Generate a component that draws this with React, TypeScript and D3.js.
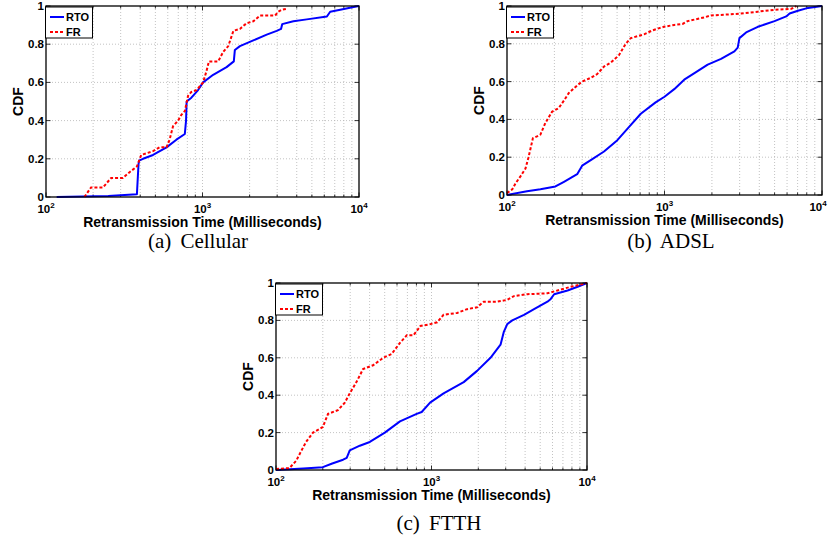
import React from 'react'
import * as d3 from 'd3'

// [milliseconds, cdf] points
const cellularRTO: [number, number][] = [
  [117, 0], [250, 0.005], [381, 0.015], [390, 0.17], [393, 0.19], [417, 0.2], [483, 0.22],
  [589, 0.26], [681, 0.3], [771, 0.33], [785, 0.4], [792, 0.5], [849, 0.52], [937, 0.56],
  [1009, 0.6], [1170, 0.64], [1425, 0.68], [1585, 0.71], [1610, 0.77], [1734, 0.79],
  [2112, 0.82], [2573, 0.85], [2980, 0.87], [3176, 0.88], [3230, 0.905], [3808, 0.92],
  [4641, 0.93], [6235, 0.945], [6546, 0.97], [7586, 0.98], [9244, 0.995], [10000, 1],
]
const cellularFR: [number, number][] = [
  [176, 0], [194, 0.05], [231, 0.05], [261, 0.1], [310, 0.1], [342, 0.13], [381, 0.16],
  [406, 0.22], [483, 0.24], [532, 0.26], [589, 0.26], [616, 0.3], [648, 0.37], [698, 0.4],
  [733, 0.43], [771, 0.45], [809, 0.53], [849, 0.55], [916, 0.56], [1009, 0.6], [1061, 0.66],
  [1099, 0.71], [1260, 0.71], [1356, 0.76], [1461, 0.79], [1575, 0.87], [1734, 0.88],
  [1914, 0.91], [2112, 0.92], [2333, 0.95], [2911, 0.95], [3055, 0.97], [3208, 0.98], [3451, 0.985],
]
const adslRTO: [number, number][] = [
  [100, 0], [134, 0.02], [163, 0.03], [203, 0.045], [230, 0.07], [279, 0.11], [293, 0.14],
  [300, 0.155], [348, 0.19], [413, 0.23], [502, 0.29], [596, 0.36], [707, 0.43], [878, 0.49],
  [1000, 0.52], [1153, 0.56], [1334, 0.61], [1585, 0.65], [1880, 0.69], [2286, 0.72],
  [2778, 0.76], [2917, 0.78], [2990, 0.83], [3297, 0.86], [3913, 0.89], [4996, 0.92],
  [5929, 0.945], [6226, 0.96], [7033, 0.975], [8147, 0.99], [10000, 1],
]
const adslFR: [number, number][] = [
  [100, 0.01], [108, 0.03], [113, 0.06], [122, 0.1], [131, 0.14], [137, 0.2], [146, 0.3],
  [155, 0.31], [163, 0.32], [175, 0.38], [193, 0.44], [213, 0.46], [230, 0.5], [247, 0.54],
  [279, 0.58], [300, 0.6], [340, 0.62], [374, 0.64], [413, 0.68], [455, 0.7], [514, 0.74],
  [567, 0.8], [611, 0.83], [741, 0.85], [834, 0.87], [902, 0.88], [991, 0.89], [1153, 0.9],
  [1303, 0.905], [1400, 0.92], [1585, 0.93], [1790, 0.94], [1973, 0.95], [2518, 0.955],
  [3062, 0.96], [3913, 0.97], [4996, 0.98], [6383, 0.985], [6874, 1],
]
const ftthRTO: [number, number][] = [
  [100, 0], [150, 0.008], [200, 0.015], [230, 0.035], [270, 0.055], [285, 0.065], [298, 0.105],
  [346, 0.13], [401, 0.15], [501, 0.2], [627, 0.26], [803, 0.3], [865, 0.31], [979, 0.36],
  [1196, 0.41], [1611, 0.47], [1964, 0.53], [2395, 0.6], [2779, 0.67], [2922, 0.74],
  [3071, 0.78], [3307, 0.8], [3935, 0.83], [4565, 0.86], [5567, 0.9], [5849, 0.915],
  [6146, 0.94], [7499, 0.96], [8704, 0.98], [10000, 1],
]
const ftthFR: [number, number][] = [
  [100, 0.005], [122, 0.01], [135, 0.05], [145, 0.1], [156, 0.15], [173, 0.2], [200, 0.23],
  [216, 0.3], [250, 0.32], [277, 0.36], [298, 0.41], [329, 0.47], [363, 0.54], [421, 0.56],
  [489, 0.6], [554, 0.62], [627, 0.68], [693, 0.72], [765, 0.72], [849, 0.77], [985, 0.78],
  [1088, 0.79], [1196, 0.83], [1462, 0.84], [1691, 0.86], [1964, 0.87], [2168, 0.9],
  [2644, 0.9], [3069, 0.91], [3390, 0.93], [4130, 0.94], [5567, 0.945], [6460, 0.96],
  [7879, 0.98], [10000, 1],
]

const yTicks = [0, 0.2, 0.4, 0.6, 0.8, 1]
const yTickLabels = ['0', '0.2', '0.4', '0.6', '0.8', '1']
const xMajor = [100, 1000, 10000]
const xExponents = ['2', '3', '4']
const xMinor = [200, 300, 400, 500, 600, 700, 800, 900, 2000, 3000, 4000, 5000, 6000, 7000, 8000, 9000]
const legendNames = ['RTO', 'FR']

const W = 829
const H = 545
const SANS = '"Liberation Sans", Arial, Helvetica, sans-serif'
const SERIF = '"Liberation Serif", "Times New Roman", serif'
const BLUE = '#0000ff'
const RED = '#ff0000'

type PanelProps = {
  x0: number; x1: number; y0: number; y1: number
  rto: [number, number][]; fr: [number, number][]
  caption: string; capX: number; capY: number
}

function Panel({ x0, x1, y0, y1, rto, fr, caption, capX, capY }: PanelProps) {
  const x = d3.scaleLog().domain([100, 10000]).range([x0, x1])
  const y = d3.scaleLinear().domain([0, 1]).range([y1, y0])
  const line = d3.line<[number, number]>().x(d => x(d[0])).y(d => y(d[1]))
  const grid = '#b4b4b4'

  return (
    <g>
      <rect x={x0} y={y0} width={x1 - x0} height={y1 - y0} fill="white" />
      {/* grid */}
      {[...xMinor, 1000].map(v => (
        <line key={'gx' + v} x1={x(v)} x2={x(v)} y1={y0} y2={y1}
          stroke={grid} strokeWidth={0.8} strokeDasharray="1,2" />
      ))}
      {yTicks.slice(1, -1).map(v => (
        <line key={'gy' + v} x1={x0} x2={x1} y1={y(v)} y2={y(v)}
          stroke={grid} strokeWidth={0.8} strokeDasharray="1,2" />
      ))}
      {/* ticks, inside on all four sides */}
      {xMinor.map(v => (
        <g key={'mt' + v} stroke="black" strokeWidth={0.8}>
          <line x1={x(v)} x2={x(v)} y1={y1} y2={y1 - 2.5} />
          <line x1={x(v)} x2={x(v)} y1={y0} y2={y0 + 2.5} />
        </g>
      ))}
      {xMajor.map(v => (
        <g key={'Mt' + v} stroke="black" strokeWidth={0.8}>
          <line x1={x(v)} x2={x(v)} y1={y1} y2={y1 - 4.5} />
          <line x1={x(v)} x2={x(v)} y1={y0} y2={y0 + 4.5} />
        </g>
      ))}
      {yTicks.map(v => (
        <g key={'yt' + v} stroke="black" strokeWidth={0.8}>
          <line x1={x0} x2={x0 + 4.5} y1={y(v)} y2={y(v)} />
          <line x1={x1} x2={x1 - 4.5} y1={y(v)} y2={y(v)} />
        </g>
      ))}
      {/* curves */}
      <path d={line(rto) ?? ''} fill="none" stroke={BLUE} strokeWidth={2} strokeLinejoin="round" />
      <path d={line(fr) ?? ''} fill="none" stroke={RED} strokeWidth={2} strokeDasharray="3,2" />
      {/* frame */}
      <rect x={x0} y={y0} width={x1 - x0} height={y1 - y0} fill="none" stroke="black" strokeWidth={1.3} />
      {/* tick labels */}
      {yTicks.map((v, i) => (
        <text key={'yl' + v} x={x0 - 2} y={y(v) + 4} textAnchor="end"
          fontFamily={SANS} fontWeight="bold" fontSize={11.5}>{yTickLabels[i]}</text>
      ))}
      {xMajor.map((v, i) => (
        <text key={'xl' + v} x={Math.min(x(v), W - 11)} y={y1 + 16} textAnchor="middle"
          fontFamily={SANS} fontWeight="bold" fontSize={11.5}>
          10<tspan dy={-5} fontSize={8}>{xExponents[i]}</tspan>
        </text>
      ))}
      <text x={(x0 + x1) / 2} y={y1 + 30} textAnchor="middle" fontFamily={SANS}
        fontWeight="bold" fontSize={14}>Retransmission Time (Milliseconds)</text>
      <text transform={`translate(${x0 - 23},${(y0 + y1) / 2}) rotate(-90)`} textAnchor="middle"
        fontFamily={SANS} fontWeight="bold" fontSize={14}>CDF</text>
      {/* legend */}
      <g>
        <rect x={x0 - 0.5} y={y0 + 1} width={47} height={31} fill="white" stroke="black" strokeWidth={1} />
        {legendNames.map((name, i) => {
          const ly = y0 + 11 + i * 15
          return (
            <g key={name}>
              <line x1={x0 + 4} x2={x0 + 18} y1={ly} y2={ly}
                stroke={i === 0 ? BLUE : RED} strokeWidth={2}
                strokeDasharray={i === 0 ? undefined : '3,2'} />
              <text x={x0 + 20} y={ly + 4} fontFamily={SANS} fontWeight="bold" fontSize={11}>{name}</text>
            </g>
          )
        })}
      </g>
      <text x={capX} y={capY} textAnchor="middle" fontFamily={SERIF} fontSize={21}
        wordSpacing={4}>{caption}</text>
    </g>
  )
}

export default function App() {
  return (
    <svg width={W} height={H} style={{ position: 'absolute', left: 0, top: 0, background: 'white' }}>
      <rect width={W} height={H} fill="white" />
      <Panel x0={46} x1={359} y0={6} y1={197} rto={cellularRTO} fr={cellularFR}
        caption="(a) Cellular" capX={198} capY={248} />
      <Panel x0={507} x1={822} y0={6} y1={195} rto={adslRTO} fr={adslFR}
        caption="(b) ADSL" capX={671} capY={248} />
      <Panel x0={276} x1={587} y0={283} y1={470} rto={ftthRTO} fr={ftthFR}
        caption="(c) FTTH" capX={439} capY={530} />
    </svg>
  )
}
